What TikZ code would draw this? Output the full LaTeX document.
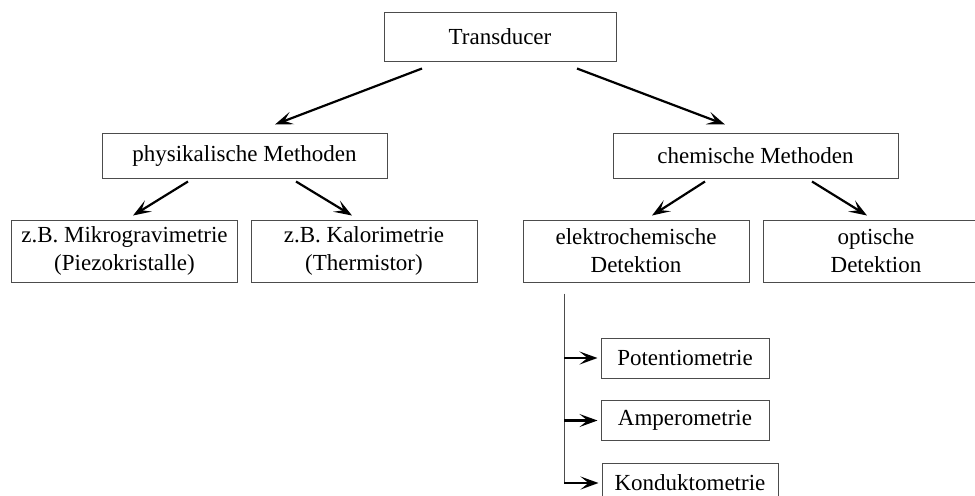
\documentclass[tikz,border=0pt]{standalone}
\usepackage{fontspec}
\setmainfont{Liberation Serif}
\usetikzlibrary{arrows.meta,calc}

\begin{document}
\begin{tikzpicture}[x=0.5pt, y=-0.5pt,
		main/.style = {draw=black!70, line width=0.5pt, inner sep=0pt, align=center, font=\fontsize{11.5pt}{14pt}\selectfont},
		wide/.style = {main, minimum width=142.5pt, minimum height=22.5pt},
		leaf/.style = {main, minimum width=113pt, minimum height=31pt},
		sub/.style = {main, minimum width=84pt, minimum height=20pt},
		arr/.style = {-{Stealth[length=9pt,width=6.5pt,inset=4pt]}, line width=1.1pt}]
			\useasboundingbox (0,0) rectangle (975,495);
			\node[main, minimum width=116pt, minimum height=24.5pt] (trans) at (500,36.5) {Transducer};
			\node[wide] (phys) at (244.5,155.5) {physikalische Methoden};
			\node[wide] (chem) at (755.5,155.5) {chemische Methoden};
			\node[leaf] (mikro) at (124.5,251) {z.B. Mikrogravimetrie\\(Piezokristalle)};
			\node[leaf] (kalo) at (364,251) {z.B. Kalorimetrie\\(Thermistor)};
			\node[leaf] (elektro) at (636,251) {elektrochemische\\Detektion};
			\node[leaf] (opt) at (876,251) {optische\\Detektion};
			\node[sub] (poten) at (685,358) {Potentiometrie};
			\node[sub] (ampero) at (685,420.5) {Amperometrie};
			\node[sub, minimum width=88pt] (kond) at (690,483) {Konduktometrie};
			\coordinate (bus) at ($(elektro.south)+(-72,11)$);
			\draw[arr] ($(trans.south)+(-78,7)$) -- ($(phys.north)+(30.5,-8)$);
			\draw[arr] ($(trans.south)+(77,7)$) -- ($(chem.north)+(-30.5,-8)$);
			\draw[arr] ($(phys.south)+(-56.5,3)$) -- ($(mikro.north)+(8.5,-4)$);
			\draw[arr] ($(phys.south)+(51.5,3)$) -- ($(kalo.north)+(-12,-4)$);
			\draw[arr] ($(chem.south)+(-50.5,3)$) -- ($(elektro.north)+(16,-4)$);
			\draw[arr] ($(chem.south)+(56.5,3)$) -- ($(opt.north)+(-9,-4)$);
			\draw[black!70, line width=0.5pt] (bus) -- (bus |- kond.west);
			\draw[arr] (bus |- poten.west) -- ([xshift=-1.5pt]poten.west);
			\draw[arr] (bus |- ampero.west) -- ([xshift=-1.5pt]ampero.west);
			\draw[arr] (bus |- kond.west) -- ([xshift=-1.5pt]kond.west);
		\end{tikzpicture}
\end{document}
